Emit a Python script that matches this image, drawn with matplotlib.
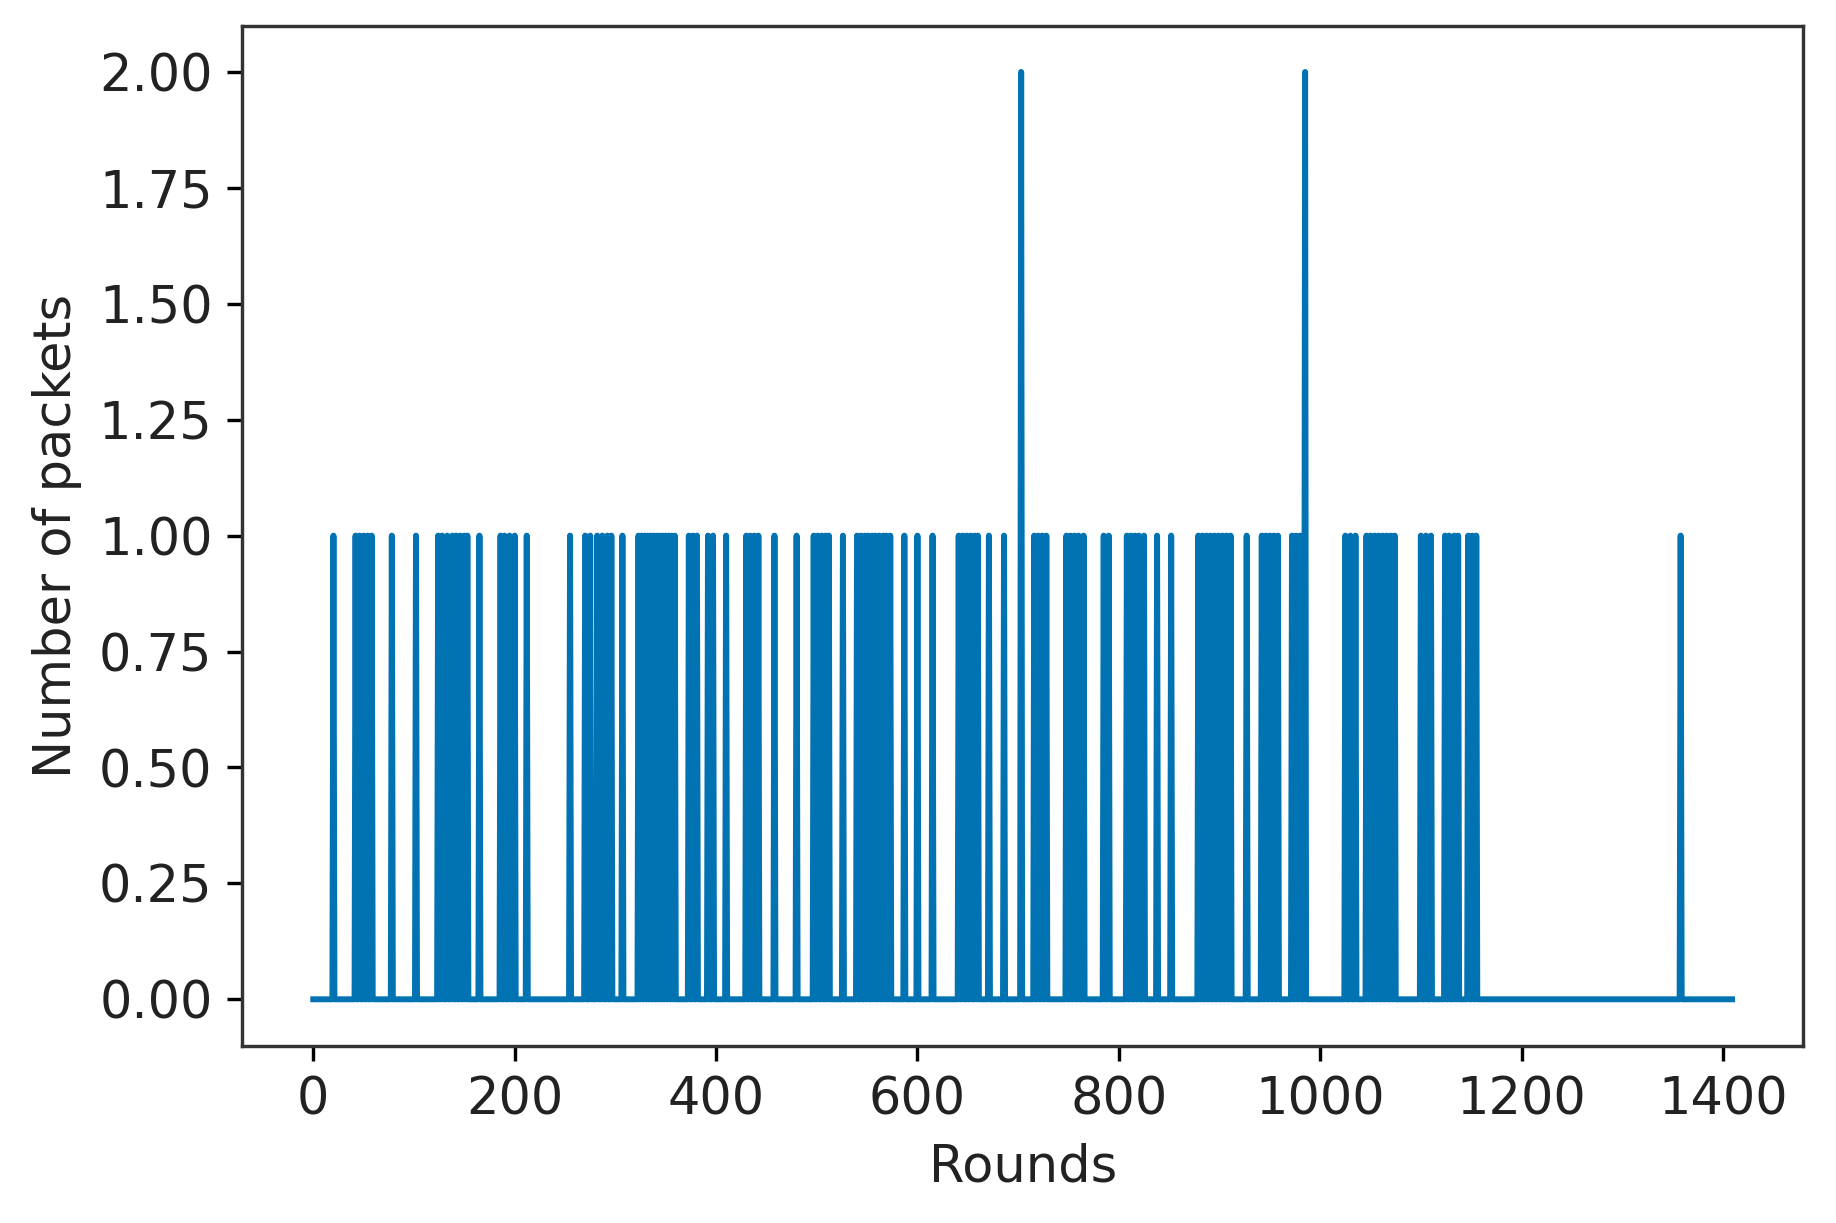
#!/usr/bin/env python
# packets received per round

import numpy as np
import matplotlib
matplotlib.use('Agg')
import matplotlib.pyplot as plt

# -- data ----------------------------------------------------------------------
n_rounds = 1410
# rounds where one packet arrived
rounds_one = [20, 42, 46, 50, 54, 58, 78, 102, 124, 128, 133, 138, 142, 146, 150,
              153, 165, 186, 190, 195, 200, 212,
              255, 270, 275, 282, 287, 292, 296, 307, 323, 326, 329, 332, 335, 338,
              341, 344, 347, 350, 353, 356, 359, 373, 377, 381, 392, 397, 410,
              430, 434, 438, 442, 458, 480,
              497, 501, 505, 509, 512, 526, 540, 544, 548, 551, 555, 558, 562, 566,
              569, 573, 587, 600, 615, 641, 645, 649, 653, 657, 660, 671, 686,
              716, 720, 724, 728, 748, 752, 756, 760, 765, 785, 790,
              808, 812, 816, 820, 825, 838, 852, 879, 883, 887, 891, 895, 899, 903,
              907, 911, 927, 942, 946, 950, 954, 958, 972, 976, 980,
              1025, 1030, 1035, 1046, 1050, 1054, 1058, 1062, 1066, 1070, 1074,
              1100, 1105, 1110, 1124, 1128, 1133, 1137, 1147, 1151, 1155, 1358]
# rounds where two packets arrived
rounds_two = [703, 985]

y_ticks = [0.00, 0.25, 0.50, 0.75, 1.00, 1.25, 1.50, 1.75, 2.00]

# -- build series --------------------------------------------------------------
rounds = np.arange(n_rounds)
packets = np.zeros(n_rounds)
packets[rounds_one] = 1
packets[rounds_two] = 2

# -- plot ----------------------------------------------------------------------
fig = plt.figure(figsize=(6, 3.997), dpi=306)
ax = fig.add_axes([0.132, 0.145, 0.850, 0.834])
ax.plot(rounds, packets, color='#0173b2', linewidth=1.4)

ax.set_yticks(y_ticks)
ax.set_yticklabels(['%.2f' % v for v in y_ticks])
ax.tick_params(labelsize=12, labelcolor='#222222')
ax.set_xlabel('Rounds', fontsize=12, color='#222222')
ax.set_ylabel('Number of packets', fontsize=12, color='#222222')
for sp in ax.spines.values():
    sp.set_color('#333333')

fig.savefig('out.png', dpi=306)
